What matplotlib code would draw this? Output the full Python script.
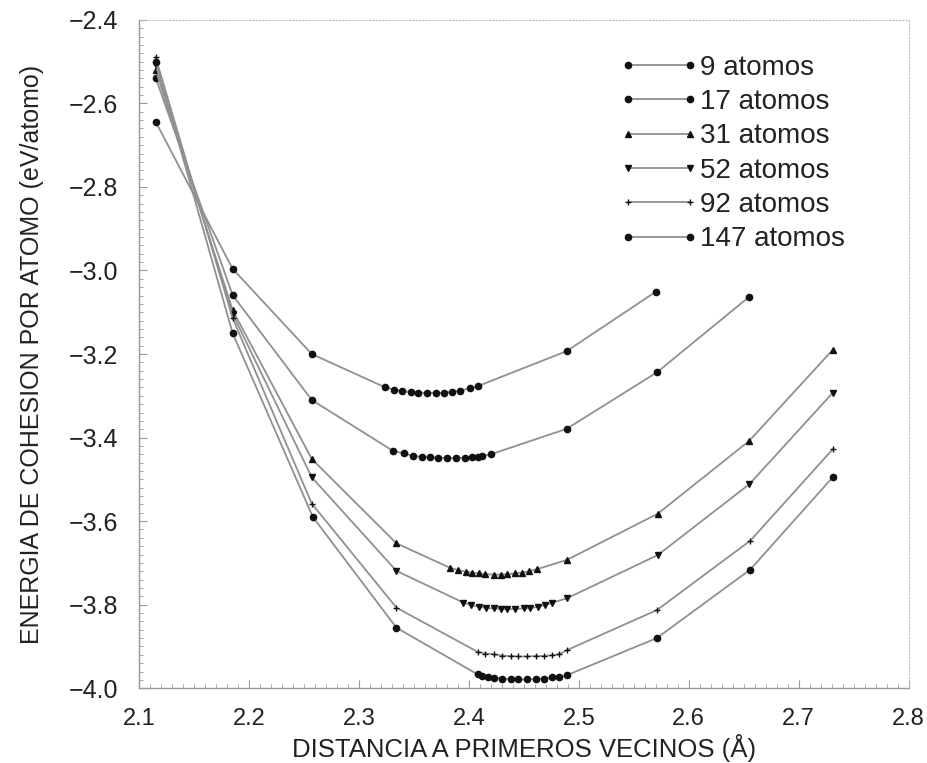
#!/usr/bin/env python3
import numpy as np
import matplotlib
matplotlib.use('Agg')
import matplotlib.pyplot as plt
from matplotlib.ticker import MultipleLocator, FuncFormatter

plt.rcParams['font.family'] = ['Liberation Sans', 'DejaVu Sans']

# cohesion energy per atom vs nearest-neighbour distance
x9 = [2.115, 2.185, 2.257,
      2.324, 2.332, 2.339, 2.347, 2.354, 2.362, 2.370, 2.377, 2.385, 2.392, 2.401, 2.408,
      2.489, 2.570]
y9 = [-2.644, -2.996, -3.200,
      -3.280, -3.285, -3.289, -3.291, -3.293, -3.293, -3.293, -3.293, -3.290, -3.288, -3.282, -3.277,
      -3.193, -3.051]

x17 = [2.115, 2.185, 2.257,
       2.331, 2.341, 2.349, 2.357, 2.365, 2.372, 2.380, 2.388, 2.396, 2.403, 2.408, 2.412, 2.420,
       2.489, 2.571, 2.655]
y17 = [-2.539, -3.059, -3.310,
       -3.432, -3.438, -3.444, -3.446, -3.447, -3.448, -3.449, -3.449, -3.448, -3.447, -3.446, -3.444, -3.440,
       -3.379, -3.244, -3.063]

x31 = [2.115, 2.185, 2.257, 2.334,
       2.383, 2.390, 2.397, 2.403, 2.409, 2.415, 2.423, 2.429, 2.435, 2.442, 2.448, 2.455, 2.462,
       2.489, 2.572, 2.655, 2.731]
y31 = [-2.520, -3.095, -3.451, -3.653,
       -3.712, -3.717, -3.721, -3.723, -3.725, -3.727, -3.728, -3.728, -3.727, -3.725, -3.723, -3.720, -3.715,
       -3.693, -3.582, -3.408, -3.190]

x52 = [2.115, 2.185, 2.257, 2.334,
       2.395, 2.402, 2.409, 2.416, 2.423, 2.429, 2.435, 2.442, 2.450, 2.456, 2.463, 2.469, 2.476,
       2.489, 2.572, 2.655, 2.731]
y52 = [-2.508, -3.104, -3.495, -3.719,
       -3.795, -3.801, -3.805, -3.808, -3.809, -3.810, -3.811, -3.810, -3.809, -3.808, -3.805, -3.801, -3.795,
       -3.785, -3.681, -3.512, -3.293]

x92 = [2.115, 2.185, 2.257, 2.334,
       2.408, 2.415, 2.423, 2.430, 2.438, 2.445, 2.453, 2.461, 2.468, 2.476, 2.482,
       2.489, 2.571, 2.656, 2.731]
y92 = [-2.490, -3.114, -3.558, -3.807,
       -3.913, -3.917, -3.919, -3.922, -3.923, -3.924, -3.924, -3.923, -3.923, -3.921, -3.919,
       -3.909, -3.813, -3.647, -3.428]

x147 = [2.115, 2.185, 2.258, 2.334,
        2.408, 2.412, 2.417, 2.423, 2.430, 2.438, 2.445, 2.453, 2.461, 2.468, 2.476, 2.482,
        2.489, 2.571, 2.656, 2.731]
y147 = [-2.500, -3.150, -3.590, -3.855,
        -3.967, -3.971, -3.973, -3.975, -3.977, -3.978, -3.979, -3.979, -3.978, -3.977, -3.974, -3.973,
        -3.969, -3.880, -3.716, -3.495]

labels = ['9 atomos', '17 atomos', '31 atomos', '52 atomos', '92 atomos', '147 atomos']

series = [(x9, y9, 'o', 4.5), (x17, y17, 'o', 4.5), (x31, y31, '^', 5),
          (x52, y52, 'v', 5), (x92, y92, '+', 4), (x147, y147, 'o', 4.5)]

fig = plt.figure(figsize=(9.28, 7.63), dpi=100)
ax = fig.add_axes([0.150, 0.098, 0.829, 0.876])

for (xs, ys, mk, ms), lab in zip(series, labels):
    ax.plot(xs, ys, color='#909090', lw=1.3, marker=mk, ms=ms,
            mfc='#111111', mec='#111111', mew=1.0, label=lab)

ax.set_xlim(2.1, 2.8)
ax.set_ylim(-4.0, -2.4)
ax.xaxis.set_major_locator(MultipleLocator(0.1))
ax.xaxis.set_minor_locator(MultipleLocator(0.01))
ax.yaxis.set_major_locator(MultipleLocator(0.2))
ax.yaxis.set_minor_locator(MultipleLocator(0.02))
ax.xaxis.set_major_formatter(FuncFormatter(lambda v, p: f'{v:.1f}'))
ax.yaxis.set_major_formatter(FuncFormatter(lambda v, p: f'{v:.1f}'.replace('-', '\u2212')))
ax.tick_params(which='both', direction='in', color='#999999', top=False, right=False)
ax.tick_params(which='major', length=6, width=0.8, labelcolor='#222222')
ax.tick_params(which='minor', length=3, width=0.6)
ax.tick_params(axis='x', which='major', labelsize=17, pad=14)
ax.tick_params(axis='y', which='major', labelsize=18, pad=15)

for s in ('left', 'bottom'):
    ax.spines[s].set_color('#999999')
    ax.spines[s].set_linewidth(1.0)
for s in ('top', 'right'):
    ax.spines[s].set_color('#bbbbbb')
    ax.spines[s].set_linewidth(0.8)
    ax.spines[s].set_linestyle((0, (1, 2)))

ax.set_xlabel('DISTANCIA A PRIMEROS VECINOS (Å)', fontsize=18.5, color='#222222', labelpad=3)
ax.set_ylabel('ENERGIA DE COHESION POR ATOMO (eV/atomo)', fontsize=18, color='#222222', labelpad=18)

leg = ax.legend(loc='upper left', bbox_to_anchor=(0.625, 0.948), frameon=False, numpoints=2,
                fontsize=20, handlelength=2.83, handletextpad=0.05, labelspacing=0.3,
                borderpad=0, borderaxespad=0)
for t in leg.get_texts():
    t.set_color('#222222')

fig.savefig('out.png', dpi=100)
